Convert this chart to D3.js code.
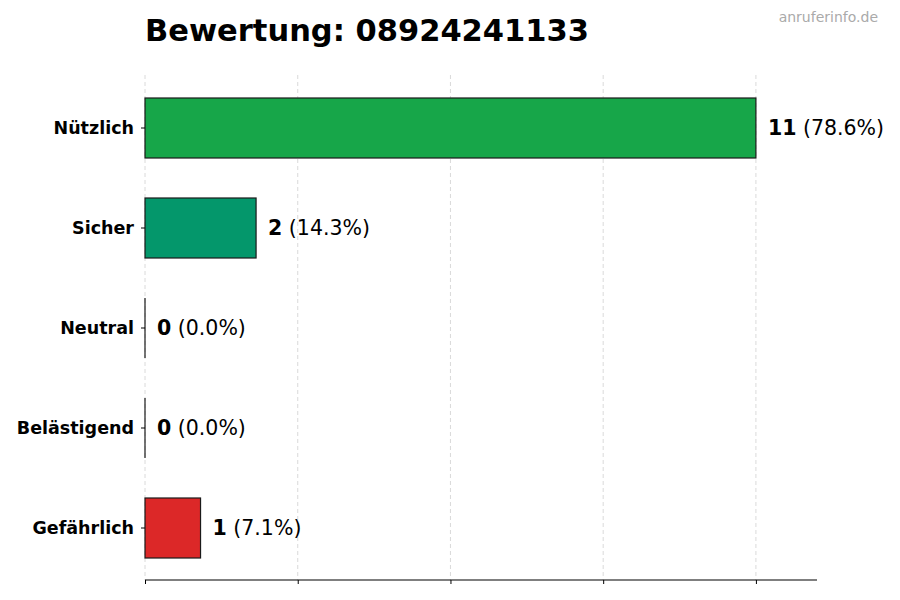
<!DOCTYPE html>
<html><head><meta charset="utf-8">
<script src="https://cdn.jsdelivr.net/npm/d3@7"></script>
<style>body{margin:0;background:#fff}svg{font-family:"DejaVu Sans",sans-serif}</style>
</head><body><svg id="c" width="900" height="600"></svg>
<script>
const categories = ["Nützlich", "Sicher", "Neutral", "Belästigend", "Gefährlich"];
const counts = [11, 2, 0, 0, 1];
const colors = ["#17a649", "#04976b", "#9ca3af", "#f97316", "#dc2828"];
const xTicks = [0, 2.75, 5.5, 8.25, 11];
const titleText = "Bewertung: 08924241133";
const watermark = "anruferinfo.de";

const total = d3.sum(counts);
const svg = d3.select("#c");
const m = {l:145, r:83, t:75, b:20};
const W = 900, H = 600;
const x = d3.scaleLinear().domain([0, d3.max(counts) * 1.1]).range([m.l, W - m.r]);
const y = d3.scaleBand().domain(categories).range([78, 578]).paddingInner(0.4).paddingOuter(0.2);

// grid
svg.append("g").selectAll("line").data(xTicks).join("line")
  .attr("x1", d => x(d)).attr("x2", d => x(d)).attr("y1", m.t).attr("y2", 580)
  .attr("stroke", "#d0d0d0").attr("stroke-width", 0.8).attr("stroke-dasharray", "4,3");

// bars
const bars = svg.append("g");
bars.selectAll("rect").data(categories.filter((d, i) => counts[i] > 0)).join("rect")
  .attr("x", x(0)).attr("y", d => y(d))
  .attr("width", d => x(counts[categories.indexOf(d)]) - x(0)).attr("height", y.bandwidth())
  .attr("fill", d => colors[categories.indexOf(d)]).attr("stroke", "#1a1a1a").attr("stroke-width", 1.2);
// zero-width bars show only their outline
bars.selectAll("line").data(categories.filter((d, i) => counts[i] === 0)).join("line")
  .attr("x1", x(0)).attr("x2", x(0)).attr("y1", d => y(d)).attr("y2", d => y(d) + y.bandwidth())
  .attr("stroke", "#1a1a1a").attr("stroke-width", 1.2);

// bottom axis
const xa = svg.append("g").attr("transform", "translate(0,580)")
  .call(d3.axisBottom(x).tickValues(xTicks).tickSize(4).tickFormat(""));
xa.select(".domain").attr("stroke", "#000").attr("stroke-width", 1.2).attr("d", `M${m.l},0H${W - m.r}`);
xa.selectAll(".tick line").attr("stroke", "#000");

// left axis (ticks + labels, no spine)
const ya = svg.append("g").attr("transform", `translate(${m.l},0)`)
  .call(d3.axisLeft(y).tickSize(4).tickPadding(7));
ya.select(".domain").remove();
ya.selectAll(".tick line").attr("stroke", "#000");
ya.selectAll(".tick text").attr("font-size", 17.5).attr("font-weight", "bold")
  .attr("fill", "#000").attr("font-family", "DejaVu Sans, sans-serif");

// value labels
const vl = svg.append("g").selectAll("text").data(categories).join("text")
  .attr("x", (d, i) => x(counts[i]) + 12).attr("y", d => y(d) + y.bandwidth() / 2)
  .attr("dy", "0.35em").attr("font-size", 20.5).attr("fill", "#000");
vl.append("tspan").attr("font-weight", "bold").text((d, i) => counts[i]);
vl.append("tspan").text((d, i) => " (" + (counts[i] / total * 100).toFixed(1) + "%)");

// title
svg.append("text").attr("x", m.l).attr("y", 41).attr("font-size", 30.5).attr("font-weight", "bold")
  .attr("fill", "#000").text(titleText);
svg.append("text").attr("x", 878).attr("y", 22).attr("text-anchor", "end").attr("font-size", 14)
  .attr("fill", "#aaa").text(watermark);
</script></body></html>
